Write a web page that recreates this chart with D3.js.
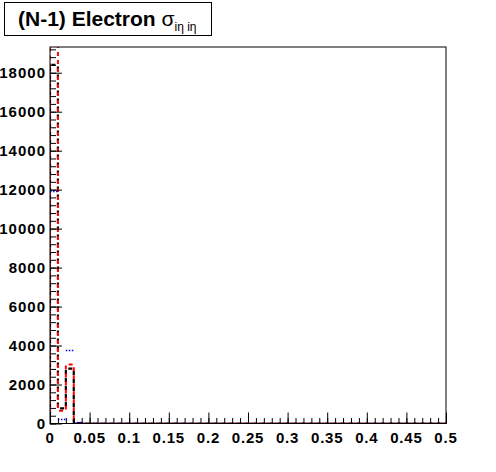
<!DOCTYPE html>
<html>
<head>
<meta charset="utf-8">
<script src="https://cdn.jsdelivr.net/npm/d3@7"></script>
<style>
  body { margin: 0; background: #fff; }
  svg { display: block; }
  text { font-family: "Liberation Sans", Arial, sans-serif; }
</style>
</head>
<body>
<div id="chart"></div>
<script>
// sigma_ietaieta, 50 bins from 0 to 0.5
const xMin = 0, xMax = 0.5;
const xTicks = [0, 0.05, 0.1, 0.15, 0.2, 0.25, 0.3, 0.35, 0.4, 0.45, 0.5];
const yTicks = [0, 2000, 4000, 6000, 8000, 10000, 12000, 14000, 16000, 18000];
const yMax = 19320;

const blackCounts = [18400, 780, 2820, 20, 0, 0, 0, 0, 0, 0,
  0, 0, 0, 0, 0, 0, 0, 0, 0, 0,
  0, 0, 0, 0, 0, 0, 0, 0, 0, 0,
  0, 0, 0, 0, 0, 0, 0, 0, 0, 0,
  0, 0, 0, 0, 0, 0, 0, 0, 0, 0];
const redCounts = [19900, 650, 3030, 0, 0, 0, 0, 0, 0, 0,
  0, 0, 0, 0, 0, 0, 0, 0, 0, 0,
  0, 0, 0, 0, 0, 0, 0, 0, 0, 0,
  0, 0, 0, 0, 0, 0, 0, 0, 0, 0,
  0, 0, 0, 0, 0, 0, 0, 0, 0, 0];
const blueCounts = [11900, 200, 3740, 50, 0, 0, 0, 0, 0, 0,
  0, 0, 0, 0, 0, 0, 0, 0, 0, 0,
  0, 0, 0, 0, 0, 0, 0, 0, 0, 0,
  0, 0, 0, 0, 0, 0, 0, 0, 0, 0,
  0, 0, 0, 0, 0, 0, 0, 0, 0, 0];

(function() {
    const width = 496, height = 472;
    const margin = {top: 47, right: 50, bottom: 48.5, left: 50};

    const svg = d3.select("#chart").append("svg")
        .attr("width", width).attr("height", height);

    const x = d3.scaleLinear().domain([xMin, xMax]).range([margin.left, width - margin.right]);
    const y = d3.scaleLinear().domain([0, yMax]).range([height - margin.bottom, margin.top]);

    svg.append("clipPath").attr("id", "plot-clip")
        .append("rect")
        .attr("x", margin.left).attr("y", margin.top)
        .attr("width", width - margin.left - margin.right)
        .attr("height", height - margin.top - margin.bottom);

    // step outline of a histogram
    const nBins = blackCounts.length;
    const binW = (xMax - xMin) / nBins;
    const stepPath = counts => {
        const p = d3.path();
        p.moveTo(x(xMin), y(0));
        counts.forEach((c, i) => {
            p.lineTo(x(xMin + i * binW), y(c));
            p.lineTo(x(xMin + (i + 1) * binW), y(c));
        });
        p.lineTo(x(xMax), y(0));
        return p.toString();
    };
    // only the flat top of each bin
    const flatPath = counts => {
        const p = d3.path();
        counts.forEach((c, i) => {
            p.moveTo(x(xMin + i * binW), y(c));
            p.lineTo(x(xMin + (i + 1) * binW), y(c));
        });
        return p.toString();
    };

    const hists = svg.append("g").attr("clip-path", "url(#plot-clip)");
    hists.append("path").attr("d", stepPath(blackCounts))
        .attr("fill", "none").attr("stroke", "#000").attr("stroke-width", 2.2)
        .attr("stroke-dasharray", "4,4");
    hists.append("path").attr("d", stepPath(redCounts))
        .attr("fill", "none").attr("stroke", "#ff0000").attr("stroke-width", 2)
        .attr("stroke-dasharray", "4,4").attr("stroke-dashoffset", 4);
    hists.append("path").attr("d", flatPath(blueCounts))
        .attr("fill", "none").attr("stroke", "#0000ff").attr("stroke-width", 1.5)
        .attr("stroke-dasharray", "1.5,1.5");

    // frame
    svg.append("rect")
        .attr("x", margin.left).attr("y", margin.top)
        .attr("width", width - margin.left - margin.right)
        .attr("height", height - margin.top - margin.bottom)
        .attr("fill", "none").attr("stroke", "#000").attr("stroke-width", 1);

    // x axis, ticks inside
    const xMinor = d3.range(0, 51).map(i => i * 0.01);
    const xAxis = svg.append("g").attr("transform", `translate(0,${height - margin.bottom})`);
    xAxis.call(d3.axisTop(x).tickValues(xMinor).tickSize(5.5).tickFormat(""));
    xAxis.append("g").call(d3.axisTop(x).tickValues(xTicks).tickSize(11).tickFormat(""));
    xAxis.selectAll(".domain").remove();
    xAxis.selectAll("line").attr("stroke", "#000");
    xAxis.selectAll(".xlab").data(xTicks).enter().append("text")
        .attr("class", "xlab")
        .attr("x", d => x(d)).attr("y", 19)
        .attr("text-anchor", "middle").attr("fill", "#000")
        .style("font-size", "15px").style("font-weight", "bold")
        .style("letter-spacing", "0.8px")
        .text(d => d3.format("")(d));

    // y axis, ticks inside
    const yMinor = d3.range(0, 49).map(i => i * 400);
    const yAxis = svg.append("g").attr("transform", `translate(${margin.left},0)`);
    yAxis.call(d3.axisRight(y).tickValues(yMinor).tickSize(6).tickFormat(""));
    yAxis.append("g").call(d3.axisRight(y).tickValues(yTicks).tickSize(12).tickFormat(""));
    yAxis.selectAll(".domain").remove();
    yAxis.selectAll("line").attr("stroke", "#000");
    yAxis.selectAll(".ylab").data(yTicks).enter().append("text")
        .attr("class", "ylab")
        .attr("x", -4).attr("y", d => y(d))
        .attr("dy", "0.36em")
        .attr("text-anchor", "end").attr("fill", "#000")
        .style("font-size", "15px").style("font-weight", "bold")
        .style("letter-spacing", "1px")
        .text(d => d);

    // title box
    svg.append("rect")
        .attr("x", 4.5).attr("y", 2.5).attr("width", 207).attr("height", 33)
        .attr("fill", "#fff").attr("stroke", "#000").attr("stroke-width", 1);
    const title = svg.append("text").attr("x", 18).attr("y", 26)
        .style("font-size", "21px").style("font-weight", "bold");
    title.append("tspan").text("(N-1) Electron ");
    title.append("tspan").style("font-weight", "normal").style("font-size", "21px").text("σ");
    title.append("tspan").attr("dy", 5).style("font-size", "12px").style("font-weight", "normal")
        .text("iη iη");
})();
</script>
</body>
</html>
